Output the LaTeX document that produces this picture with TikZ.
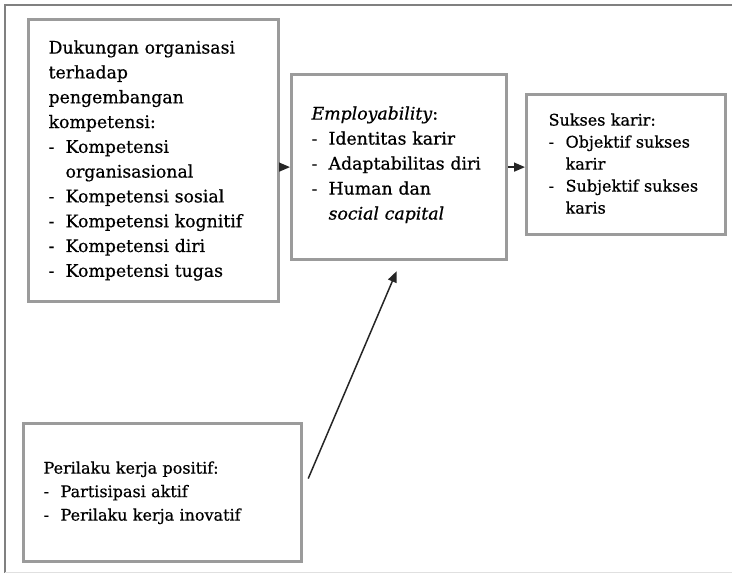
\documentclass[tikz,border=0pt]{standalone}
\usepackage{fontspec}
\setmainfont[FakeBold=0.6]{DejaVu Serif}
\usetikzlibrary{positioning,arrows.meta,calc}
\definecolor{rahmen}{RGB}{155,155,155}
\newcommand{\butir}[1]{\makebox[17pt][l]{-}\mbox{#1}}
\newcommand{\sambung}[1]{\hspace*{17pt}\mbox{#1}}

\begin{document}
\begin{tikzpicture}[x=1pt,y=-1pt,>={Triangle[length=11pt,width=9pt]},
  kotak/.style={draw=rahmen,line width=3.2pt,fill=white,anchor=north west,align=left,inner ysep=0pt,inner xsep=20pt},
  panah/.style={->,line width=1.5pt,black!85}]
  \useasboundingbox (0,0) rectangle (732,573);
  % outer frame
  \draw[black!50,line width=2.5pt] (5,573) -- (5,5) -- (732,5);
  \draw[black!12,line width=1pt] (5,572) -- (732,572);

  \node[kotak,text width=210pt,text height=34pt,text depth=248pt,font=\fontsize{17.3}{24.8}\selectfont] (dukungan) at (27,18)
    {Dukungan organisasi\\ terhadap\\ pengembangan\\ kompetensi:\\ \butir{Kompetensi}\\ \sambung{organisasional}\\
     \butir{Kompetensi sosial}\\ \butir{Kompetensi kognitif}\\ \butir{Kompetensi diri}\\ \butir{Kompetensi tugas}};
  \node[kotak,text width=175pt,text height=45pt,text depth=140pt,font=\fontsize{17.3}{25}\selectfont] (employ) at (290,73)
    {\textit{Employability}:\\ \butir{Identitas karir}\\ \butir{Adaptabilitas diri}\\ \butir{Human dan}\\ \sambung{\textit{social capital}}};
  \node[kotak,inner xsep=22pt,text width=155pt,text height=31pt,text depth=109pt,font=\fontsize{16}{22}\selectfont] (sukses) at (525,93)
    {Sukses karir:\\ \butir{Objektif sukses}\\ \sambung{karir}\\ \butir{Subjektif sukses}\\ \sambung{karis}};
  \node[kotak,text width=238pt,text height=50pt,text depth=88pt,font=\fontsize{16}{23.5}\selectfont] (perilaku) at (22,422)
    {Perilaku kerja positif:\\ \butir{Partisipasi aktif}\\ \butir{Perilaku kerja inovatif}};

  \draw[panah] (dukungan.east |- employ.west) -- (employ.west);
  \draw[panah] (employ.east) -- (employ.east -| sukses.west);
  \draw[panah] ([shift={(5,-14)}]perilaku.east) -- ([shift={(-2.5,10)}]employ.south);
\end{tikzpicture}
\end{document}
